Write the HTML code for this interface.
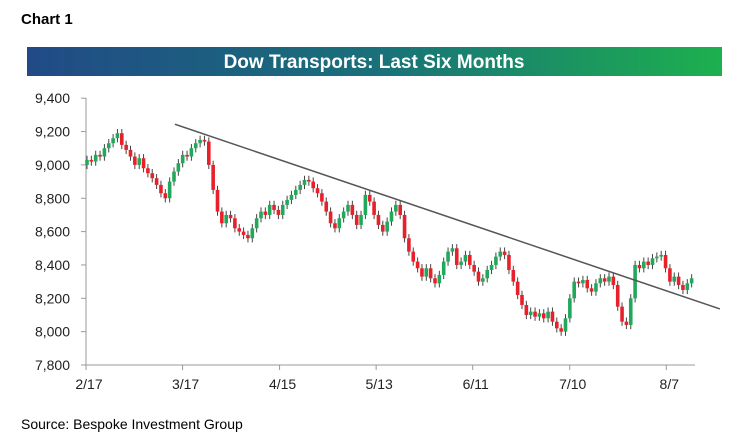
<!DOCTYPE html>
<html><head><meta charset="utf-8"><style>
body{margin:0;background:#fff;font-family:"Liberation Sans",sans-serif;}
#wrap{position:relative;width:750px;height:447px;overflow:hidden;}
</style></head><body>
<div id="wrap">
<svg id="chart" width="750" height="447">
<defs><linearGradient id="tg" x1="0" x2="1" y1="0" y2="0">
<stop offset="0" stop-color="#214a86"/><stop offset="0.5" stop-color="#19707a"/><stop offset="1" stop-color="#1db04e"/></linearGradient></defs>
<text x="21" y="24" font-size="15" font-weight="bold" fill="#000">Chart 1</text>
<rect x="27" y="47" width="695" height="29" fill="url(#tg)"/>
<text x="374" y="68" font-size="19" font-weight="bold" fill="#fff" text-anchor="middle">Dow Transports: Last Six Months</text>
<text x="21" y="429" font-size="14" fill="#000">Source: Bespoke Investment Group</text>
<g id="axes"></g><g id="marks"></g>
</svg></div>
<script>
const closes=[9030,9020,9060,9050,9100,9130,9160,9190,9120,9090,9050,9000,9040,8980,8950,8920,8880,8830,8800,8900,8960,9010,9060,9050,9100,9130,9150,9140,9000,8850,8720,8650,8700,8680,8620,8600,8580,8560,8620,8680,8720,8700,8760,8730,8700,8760,8790,8820,8850,8880,8910,8900,8860,8830,8780,8720,8650,8620,8680,8720,8760,8700,8640,8700,8820,8780,8700,8640,8600,8660,8720,8760,8700,8560,8480,8420,8380,8330,8380,8320,8290,8340,8420,8480,8500,8400,8420,8460,8400,8360,8300,8320,8370,8400,8450,8480,8460,8370,8300,8220,8160,8100,8120,8090,8110,8080,8120,8060,8020,8000,8080,8200,8300,8290,8310,8260,8240,8290,8320,8300,8330,8280,8150,8060,8040,8200,8400,8380,8420,8400,8440,8450,8460,8380,8300,8330,8280,8250,8290,8320];
const firstOpen=9000;
const yTicks=[7800,8000,8200,8400,8600,8800,9000,9200,9400];
const yTickLabels=["7,800","8,000","8,200","8,400","8,600","8,800","9,000","9,200","9,400"];
const xTickIdx=[0,22.2,44.5,66.7,88.9,111.2,133.4];
const xTickLabels=["2/17","3/17","4/15","5/13","6/11","7/10","8/7"];
const trendIdx=[20.2,145.5];
const trendVal=[9244,8136];
const NS="http://www.w3.org/2000/svg";
const y=v=>365-(v-7800)*(33.35/200);
const x=i=>87+i*4.35;
function mk(t,a,p){const e=document.createElementNS(NS,t);for(const k in a)e.setAttribute(k,a[k]);(p||document.getElementById('marks')).appendChild(e);return e;}
const ax=document.getElementById('axes');
let e=mk('line',{x1:86,y1:98,x2:86,y2:365,stroke:'#999','stroke-width':1},ax);

e=mk('line',{x1:86,y1:365,x2:695,y2:365,stroke:'#999','stroke-width':1},ax);

yTicks.forEach((v,k)=>{
  mk('line',{x1:81,y1:y(v),x2:86,y2:y(v),stroke:'#999'},ax);
  const t=mk('text',{x:70,y:y(v)+5,'font-size':14,'text-anchor':'end',fill:'#222'},ax);
  t.textContent=yTickLabels[k];
  
  
});
xTickIdx.forEach((i,k)=>{
  const px=86+i*4.35;
  mk('line',{x1:px,y1:365,x2:px,y2:370,stroke:'#999'},ax);
  const t=mk('text',{x:px+3,y:389,'font-size':14,'text-anchor':'middle',fill:'#222'},ax);
  t.textContent=xTickLabels[k];
  
  
});
closes.forEach((c,i)=>{
  const o=i?closes[i-1]:firstOpen;
  const up=c>=o;const col=up?'#22a85a':'#e8202a';
  const hi=Math.max(o,c)+25,lo=Math.min(o,c)-25;
  const w=mk('line',{x1:x(i),y1:y(hi),x2:x(i),y2:y(lo),stroke:'#444','stroke-width':1});
  
  
  const top=y(Math.max(o,c)),h=Math.max(1.5,y(Math.min(o,c))-top);
  const r=mk('rect',{x:x(i)-1.8,y:top,width:3.6,height:h,fill:col});
  
  
});
const tl=mk('line',{x1:x(trendIdx[0]),y1:y(trendVal[0]),x2:x(trendIdx[1]),y2:y(trendVal[1]),stroke:'#555','stroke-width':1.5});


</script>
</body></html>
